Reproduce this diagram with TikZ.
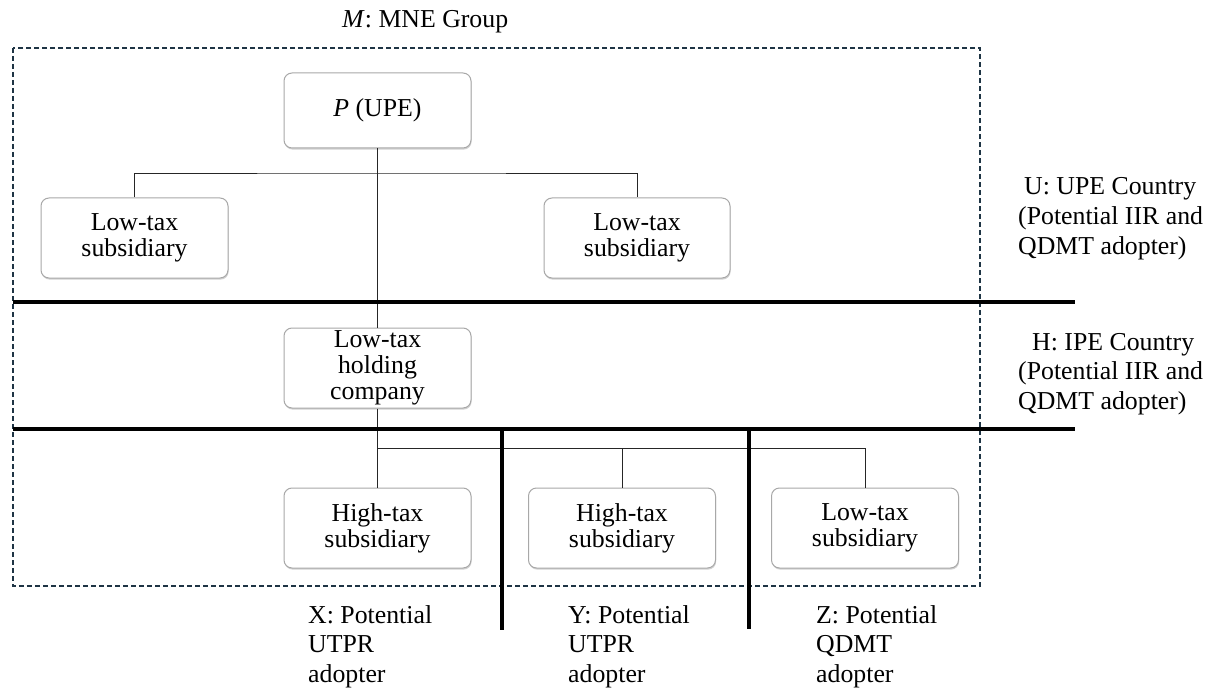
\documentclass[tikz,border=0pt]{standalone}
\usepackage{fontspec}
\setmainfont{Liberation Serif}
\usetikzlibrary{shadows}
\definecolor{dashcol}{HTML}{1E3444}
\definecolor{boxcol}{HTML}{A8A8A8}
\tikzset{
  entity/.style={draw=boxcol, line width=1pt, rounded corners=8pt, fill=white,
    minimum width=187pt, minimum height=80pt, inner sep=0pt, align=center,
    font=\fontsize{25.8}{26}\selectfont,
    drop shadow={shadow xshift=0.6pt, shadow yshift=-1.6pt, fill=gray!45, opacity=0.8}},
  conn/.style={draw=black!85, line width=0.8pt},
  border/.style={line width=4pt, draw=black},
  group/.style={draw=dashcol, line width=1.4pt, dash pattern=on 5pt off 3pt},
  label/.style={anchor=base west, inner sep=0pt, align=left,
    font=\fontsize{25.8}{29.5}\selectfont},
}
\begin{document}
\begin{tikzpicture}[x=1pt,y=-1pt]
\useasboundingbox (0,0) rectangle (1219,690);
% group boundary
\draw[group] (13,48) rectangle (980,586);
\node[label] (mlab) at (342,28) {\textit{M}: MNE Group};
% boxes
\node[entity, minimum height=75pt] (P) at (377.5,110.5) {\textit{P} (UPE)};
\node[entity] (L1) at (134.5,238) {Low-tax\\subsidiary};
\node[entity, minimum width=186pt] (L2) at (637,238) {Low-tax\\subsidiary};
\node[entity] (Hc) at (377.5,368) {Low-tax\\holding\\company};
\node[entity] (B1) at (377.5,528) {High-tax\\subsidiary};
\node[entity] (B2) at (622,528) {High-tax\\subsidiary};
\node[entity] (B3) at (865,528) {Low-tax\\subsidiary};
% connectors
\coordinate (j1) at (377.5,173);
\coordinate (j2) at (377.5,448);
\draw[conn] (P.south) -- (Hc.north);
\draw[conn] (L1.north) |- (j1) -| (L2.north);
\draw[conn] (Hc.south) -- (B1.north);
\draw[conn] (j2) -| (B3.north);
\draw[conn] (B2.north) -- (B2.north |- j2);
% country borders
\coordinate (h1a) at (13,302); \coordinate (h1b) at (1075,302);
\coordinate (h2a) at (13,429); \coordinate (h2b) at (1075,429);
\coordinate (v1a) at (502,429); \coordinate (v1b) at (502,630);
\coordinate (v2a) at (749,429); \coordinate (v2b) at (749,629);
\draw[border] (h1a) -- (h1b);
\draw[border] (h2a) -- (h2b);
\draw[border] (v1a) -- (v1b);
\draw[border] (v2a) -- (v2b);
% country labels (base anchor = last line's baseline)
\node[label] (U) at (1018,254) {\hspace*{6pt}U: UPE Country\\(Potential IIR and\\QDMT adopter)};
\node[label] (H) at (1018,409) {\hspace*{14pt}H: IPE Country\\(Potential IIR and\\QDMT adopter)};
\node[label] (X) at (308,682) {X: Potential\\UTPR\\adopter};
\node[label] (Y) at (568,682) {Y: Potential\\UTPR\\adopter};
\node[label] (Z) at (816,682) {Z: Potential\\QDMT\\adopter};
\end{tikzpicture}
\end{document}
